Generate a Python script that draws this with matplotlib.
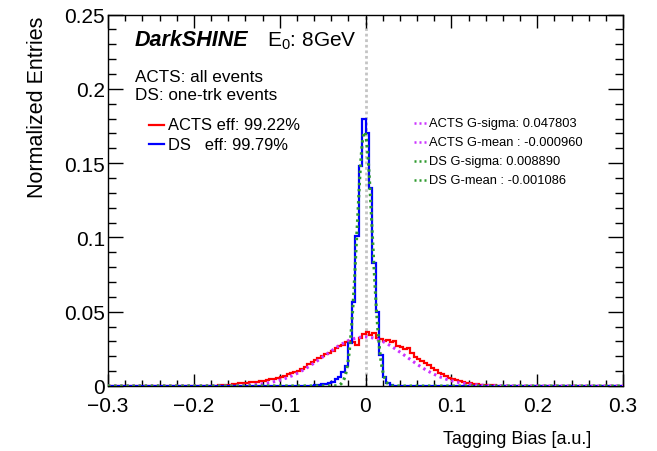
import numpy as np
import matplotlib
matplotlib.use("Agg")
import matplotlib.pyplot as plt
from matplotlib.lines import Line2D
from matplotlib.ticker import MultipleLocator

plt.rcParams['font.family'] = ['Liberation Sans', 'DejaVu Sans']
plt.rcParams['mathtext.fontset'] = 'custom'
plt.rcParams['mathtext.rm'] = 'Liberation Sans'
plt.rcParams['mathtext.it'] = 'Liberation Sans:italic'
plt.rcParams['mathtext.bf'] = 'Liberation Sans:bold'

# ---------------- data ----------------
x_range = (-0.3, 0.3)
n_bins = 150  # bin width 0.004

# ACTS histogram (all events), bins starting at edge -0.180
acts_first_edge = -0.180
acts_values = [
    0.0002, 0.0003, 0.0004, 0.0006, 0.0009, 0.0010, 0.0012, 0.0014, 0.0017, 0.0019,
    0.0022, 0.0024, 0.0027, 0.0030, 0.0033, 0.0036, 0.0041, 0.0046, 0.0050, 0.0056,
    0.0063, 0.0070, 0.0079, 0.0086, 0.0093, 0.0104, 0.0117, 0.0131, 0.0146, 0.0160,
    0.0172, 0.0186, 0.0199, 0.0213, 0.0222, 0.0238, 0.0258, 0.0268, 0.0275, 0.0296,
    0.0306, 0.0298, 0.0275, 0.0322, 0.0348, 0.0362, 0.0341, 0.0357, 0.0325, 0.0318,
    0.0302, 0.0311, 0.0296, 0.0305, 0.0270, 0.0262, 0.0251, 0.0253, 0.0222, 0.0198,
    0.0180, 0.0166, 0.0152, 0.0138, 0.0118, 0.0105, 0.0090, 0.0079, 0.0066, 0.0055,
    0.0047, 0.0039, 0.0032, 0.0026, 0.0021, 0.0017, 0.0014, 0.0011, 0.0009, 0.0007,
    0.0006, 0.0005, 0.0004, 0.0003, 0.0002, 0.0002,
]

# DS histogram (one-trk events), bins starting at edge -0.064
ds_first_edge = -0.064
ds_values = [
    0.0003, 0.0005, 0.0008, 0.0011, 0.0015, 0.0022, 0.0030, 0.0045, 0.0060, 0.0092,
    0.0137, 0.0290, 0.0565, 0.1010, 0.1480, 0.1800, 0.1700, 0.1330, 0.0830, 0.0500,
    0.0210, 0.0060, 0.0018, 0.0006,
]

# Gaussian fit parameters (amplitude, mean, sigma)
acts_fit = (0.0330, -0.000960, 0.047803)
ds_fit = (0.1710, -0.001086, 0.008890)

acts_label = "ACTS eff: 99.22%"
ds_label = "DS   eff: 99.79%"
fit_labels = ["ACTS G-sigma: 0.047803", "ACTS G-mean : -0.000960",
              "DS G-sigma: 0.008890", "DS G-mean : -0.001086"]

# ---------------- build ----------------
edges = np.linspace(x_range[0], x_range[1], n_bins + 1)
width = (x_range[1] - x_range[0]) / n_bins


def fill(first_edge, vals):
    h = np.zeros(n_bins)
    i0 = int(round((first_edge - x_range[0]) / width))
    h[i0:i0 + len(vals)] = vals
    return h


acts_h = fill(acts_first_edge, acts_values)
ds_h = fill(ds_first_edge, ds_values)

W, H = 657, 452
fig = plt.figure(figsize=(W / 100, H / 100), dpi=100)
L, R, T, B = 108, 623, 15.5, 387
ax = fig.add_axes([L / W, 1 - B / H, (R - L) / W, (B - T) / H])

ax.axvline(0, color='#c4c4c4', lw=2.0, ls=(0, (1, 1)), zorder=1)

ax.stairs(acts_h, edges, color='#ff0000', lw=1.6, baseline=None, zorder=2)
ax.stairs(ds_h, edges, color='#0000ff', lw=1.6, baseline=None, zorder=3)

xf = np.linspace(x_range[0], x_range[1], 1201)
for (a, m, s), col, z in [(acts_fit, '#cc33ff', 4), (ds_fit, '#2e9a2e', 5)]:
    ax.plot(xf, a * np.exp(-0.5 * ((xf - m) / s) ** 2), color=col, lw=2.2,
            ls=(0, (0.8, 1.2)), zorder=z)

ax.set_xlim(*x_range)
ax.set_ylim(0, 0.25)
ax.xaxis.set_minor_locator(MultipleLocator(0.02))
ax.yaxis.set_minor_locator(MultipleLocator(0.01))
ax.set_yticks([0, 0.05, 0.1, 0.15, 0.2, 0.25])
ax.set_yticklabels(['0', '0.05', '0.1', '0.15', '0.2', '0.25'])
ax.set_xticks([-0.3, -0.2, -0.1, 0, 0.1, 0.2, 0.3])
ax.set_xticklabels(['\u22120.3', '\u22120.2', '\u22120.1', '0', '0.1', '0.2', '0.3'])

ax.tick_params(axis='both', which='both', direction='in', top=True, right=True,
               labelsize=15, width=1)
ax.tick_params(axis='y', which='major', length=11, pad=2)
ax.tick_params(axis='y', which='minor', length=6)
ax.tick_params(axis='x', which='major', length=9, pad=7)
ax.tick_params(axis='x', which='minor', length=4.5)
for sp in ax.spines.values():
    sp.set_linewidth(1)


def fx(px):
    return px / W


def fy(py):
    return 1 - py / H


fig.text(fx(38), fy(17), "Normalized Entries", rotation=90, ha='center', va='top', fontsize=15.5)
fig.text(fx(591), fy(440), "Tagging Bias [a.u.]", ha='right', va='center', fontsize=13)

fig.text(fx(135), fy(41), "DarkSHINE", fontsize=15.5, fontweight='bold', fontstyle='italic',
         ha='left', va='center')
fig.text(fx(267), fy(41), r"E$_{\mathrm{0}}$: 8GeV", fontsize=15, ha='left', va='center')
fig.text(fx(135), fy(77), "ACTS: all events", fontsize=12.3, ha='left', va='center')
fig.text(fx(135), fy(96), "DS: one-trk events", fontsize=12.3, ha='left', va='center')

for yy, col, lab in [(126, '#ff0000', acts_label), (145, '#0000ff', ds_label)]:
    fig.add_artist(Line2D([fx(149), fx(164)], [fy(yy), fy(yy)], color=col, lw=1.6,
                          transform=fig.transFigure))
    fig.text(fx(168), fy(yy), lab, fontsize=11.9, ha='left', va='center')

for yy, col, lab in zip([124, 143, 162, 181], ['#cc33ff', '#cc33ff', '#2e9a2e', '#2e9a2e'],
                        fit_labels):
    fig.add_artist(Line2D([fx(414), fx(428)], [fy(yy), fy(yy)], color=col, lw=1.8,
                          ls=(0, (0.8, 1.2)), transform=fig.transFigure))
    fig.text(fx(429), fy(yy), lab, fontsize=9.3, ha='left', va='center')

fig.savefig("out.png", dpi=100)
